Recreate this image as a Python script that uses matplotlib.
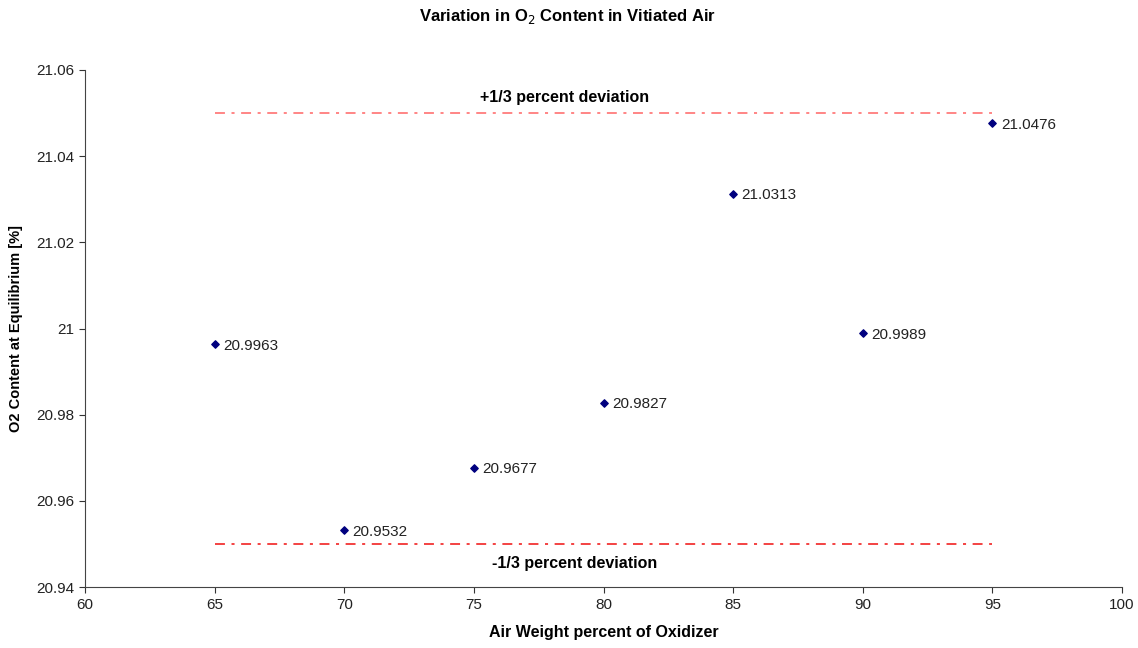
import matplotlib
matplotlib.use("Agg")
import matplotlib.pyplot as plt

plt.rcParams['font.family'] = ['Liberation Sans', 'DejaVu Sans']

# data
air_pct = [65, 70, 75, 80, 85, 90, 95]
o2_content = [20.9963, 20.9532, 20.9677, 20.9827, 21.0313, 20.9989, 21.0476]
dev_x = [65, 95]
upper_dev = [21.05, 21.05]
lower_dev = [20.95, 20.95]

fig = plt.figure(figsize=(11.38, 6.48), dpi=100)
ax = fig.add_axes([0.0747, 0.094, 0.9113, 0.798])

dashdot = (0, (6.5, 4.3, 2, 4.3))
ax.plot(dev_x, upper_dev, color='#ff6464', lw=1.1, ls=dashdot)
ax.plot(dev_x, lower_dev, color='#f01010', lw=1.1, ls=dashdot)
ax.scatter(air_pct, o2_content, marker='D', s=14, color='#00007f', zorder=3)

for x, y in zip(air_pct, o2_content):
    ax.annotate(f"{y:.4f}", (x, y), xytext=(6, -1), textcoords='offset points',
                fontsize=11, va='center', ha='left', color='#222222')

ax.text(78.5, 21.0535, "+1/3 percent deviation", ha='center', va='center',
        fontsize=11.5, fontweight='bold')
ax.text(78.9, 20.9455, "-1/3 percent deviation", ha='center', va='center',
        fontsize=11.5, fontweight='bold')

ax.set_xlim(60, 100)
ax.set_ylim(20.94, 21.06)
ax.set_xticks(range(60, 101, 5))
ax.set_yticks([20.94, 20.96, 20.98, 21.0, 21.02, 21.04, 21.06])
ax.set_yticklabels(['20.94', '20.96', '20.98', '21', '21.02', '21.04', '21.06'])
ax.tick_params(direction='out', length=4, labelsize=11, colors='#333333', labelcolor='#222222')
for side in ['top', 'right']:
    ax.spines[side].set_visible(False)
for side in ['left', 'bottom']:
    ax.spines[side].set_color('#444444')

ax.set_xlabel("Air Weight percent of Oxidizer", fontsize=11.5, fontweight='bold', labelpad=10)
ax.set_ylabel("O2 Content at Equilibrium [%]", fontsize=10.5, fontweight='bold', labelpad=10)
fig.text(0.499, 0.974, r"Variation in O$_2$ Content in Vitiated Air", ha='center', va='center',
         fontsize=12, fontweight='bold')

fig.savefig("out.png", dpi=100)
